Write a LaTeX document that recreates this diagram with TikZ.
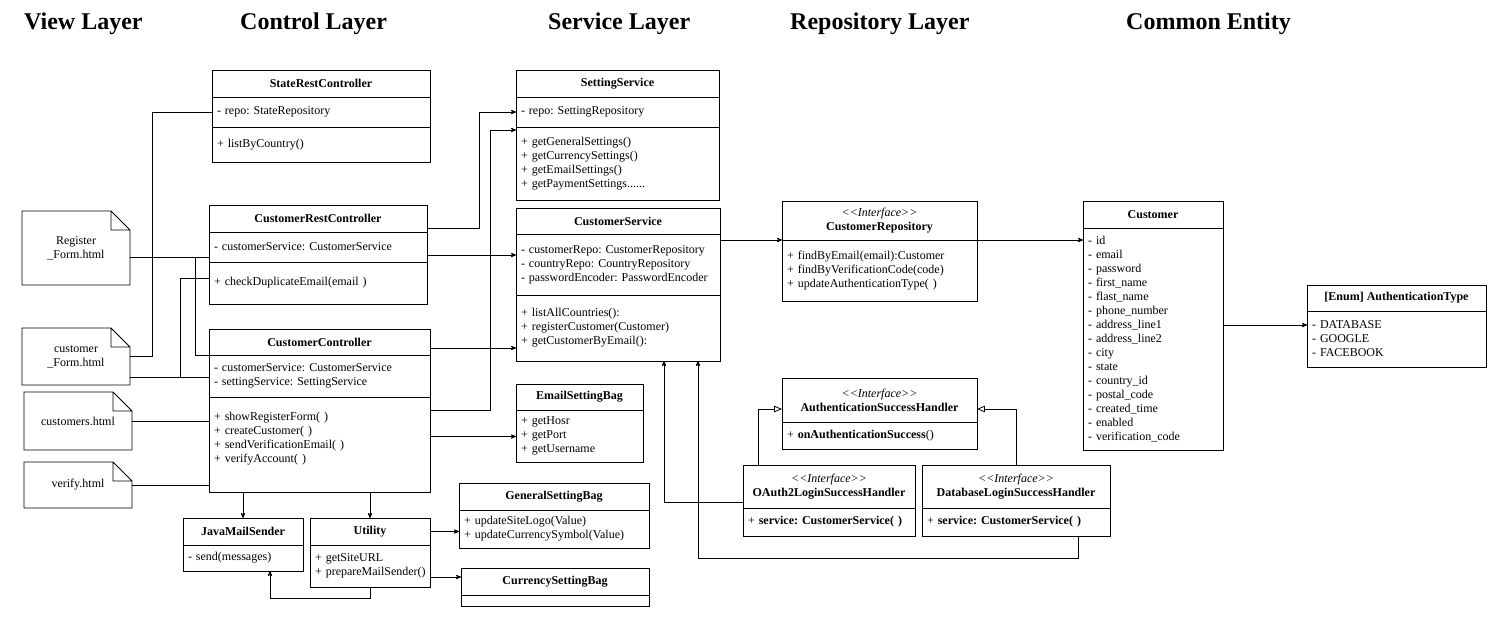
\documentclass[tikz,border=0pt]{standalone}
\usepackage{fontspec}
\setmainfont{Liberation Serif}
\usetikzlibrary{arrows,shapes,positioning,calc}
\newcommand{\umlfont}{\fontsize{12}{14}\selectfont\frenchspacing}
\newcommand{\iface}{{\normalfont\itshape <\kern0pt<Interface>\kern0pt>}}
\tikzset{
	classname/.style 2 args={
		rectangle,
		draw,
		line width=0.8pt,
		minimum width=#1,
		minimum height=#2,
		inner sep=2pt,
		outer sep=0pt,
		align=center,
		font=\umlfont\bfseries
	},
	members/.style 2 args={
		rectangle,
		draw,
		line width=0.8pt,
		text width=#1-10pt,
		minimum height=#2,
		inner xsep=5pt,
		inner ysep=2pt,
		outer sep=0pt,
		align=left,
		font=\umlfont
	},
	viewfile/.style={
		rectangle,
		minimum width=108,
		outer sep=0pt,
		align=center,
		font=\umlfont
	},
	layer/.style={
		anchor=base west,
		inner sep=0pt,
		font=\fontsize{24}{28}\selectfont\bfseries
	},
	arrow/.style={
		draw,
		line width=0.8pt,
		->,
		>=stealth'
	},
	inherit/.style={
		draw,
		line width=0.8pt,
		-open triangle 45
	},
	line/.style={
		draw,
		line width=0.8pt
	},
}

\begin{document}
\begin{tikzpicture}[x=1pt,y=-1pt]
\useasboundingbox (0,0) rectangle (1508,630);

% layers
\node [layer] (viewlayer) at (24,29) {View Layer};
\node [layer] (controllayer) at (240,29) {Control Layer};
\node [layer] (servicelayer) at (548,29) {Service Layer};
\node [layer] (repolayer) at (790,29) {Repository Layer};
\node [layer] (entitylayer) at (1126,29) {Common Entity};

% view layer
\node [viewfile,minimum height=74,anchor=north west] (reg) at (22,211) {Register\\\_Form.html};
\node [viewfile,minimum height=57,anchor=north west] (cfm) at (22,328) {customer\\\_Form.html};
\node [viewfile,minimum height=58,anchor=north west] (cus) at (24,392) {customers.html};
\node [viewfile,minimum height=46,anchor=north west] (ver) at (24,462) {verify.html};
\foreach \n in {reg,cfm,cus,ver}
	\draw [line] (\n.north west) -- ([xshift=-19pt]\n.north east) -- ([yshift=-19pt]\n.north east)
		-- (\n.south east) -- (\n.south west) -- cycle
		([xshift=-19pt]\n.north east) |- ([yshift=-19pt]\n.north east);

% control layer
\node [classname={218}{27},anchor=north west] (srct) at (212,70) {StateRestController};
\node [members={218}{30},below=0pt of srct] (srca) {- repo: StateRepository};
\node [members={218}{35},below=0pt of srca] (srcm) {+ listByCountry()};

\node [classname={218}{27},anchor=north west] (crct) at (209,205) {CustomerRestController};
\node [members={218}{30},below=0pt of crct] (crca) {- customerService: CustomerService};
\node [members={218}{42},below=0pt of crca] (crcm) {+ checkDuplicateEmail(email )};

\node [classname={221}{26},anchor=north west] (cct) at (209,329) {CustomerController};
\node [members={221}{42},below=0pt of cct] (cca) {- customerService: CustomerService\\- settingService: SettingService};
\node [members={221}{95},below=0pt of cca] (ccm) {+ showRegisterForm( )\\+ createCustomer( )\\+ sendVerificationEmail( )\\+ verifyAccount( )\\\mbox{}};

\node [classname={120}{27},anchor=north west] (jmst) at (183,518) {JavaMailSender};
\node [members={120}{26},below=0pt of jmst] (jmsa) {- send(messages)};

\node [classname={120}{27},anchor=north west] (utilt) at (310,518) {Utility};
\node [members={120}{42},below=0pt of utilt] (utila) {+ getSiteURL\\\mbox{+ prepareMailSender()}};

% service layer
\node [classname={203}{27},anchor=north west] (sst) at (516,70) {SettingService};
\node [members={203}{30},below=0pt of sst] (ssa) {- repo: SettingRepository};
\node [members={203}{73},below=0pt of ssa] (ssm) {+ getGeneralSettings()\\+ getCurrencySettings()\\+ getEmailSettings()\\+ getPaymentSettings......};

\node [classname={204}{26},anchor=north west] (cst) at (516,208) {CustomerService};
\node [members={204}{61},below=0pt of cst] (csa) {- customerRepo: CustomerRepository\\- countryRepo: CountryRepository\\- passwordEncoder: PasswordEncoder};
\node [members={204}{66},below=0pt of csa] (csm) {+ listAllCountries():\\+ registerCustomer(Customer)\\+ getCustomerByEmail():};

\node [classname={127}{26},anchor=north west] (esbt) at (516,384) {EmailSettingBag};
\node [members={127}{52},below=0pt of esbt] (esba) {+ getHosr\\+ getPort\\+ getUsername};

\node [classname={190}{27},anchor=north west] (gsbt) at (459,483) {GeneralSettingBag};
\node [members={190}{38},below=0pt of gsbt] (gsba) {+ updateSiteLogo(Value)\\+ updateCurrencySymbol(Value)};

\node [classname={188}{27},anchor=north west] (csbt) at (461,568) {CurrencySettingBag};
\node [members={188}{11},below=0pt of csbt] (csba) {};

% repository layer
\node [classname={195}{39},anchor=north west] (crrt) at (782,201) {\iface\\CustomerRepository};
\node [members={195}{61},below=0pt of crrt] (crrm) {+ findByEmail(email):Customer\\+ findByVerificationCode(code)\\+ updateAuthenticationType( )};

\node [classname={195}{44},anchor=north west] (asht) at (782,378) {\iface\\AuthenticationSuccessHandler};
\node [members={195}{27},below=0pt of asht] (ashm) {+ \textbf{onAuthenticationSuccess}()};

\node [classname={172}{43},anchor=north west] (oat) at (743,465) {\iface\\OAuth2LoginSuccessHandler};
\node [members={172}{28},below=0pt of oat] (oam) {+ \textbf{service: CustomerService( )}};

\node [classname={188}{43},anchor=north west] (dbt) at (922,465) {\iface\\DatabaseLoginSuccessHandler};
\node [members={188}{28},below=0pt of dbt] (dbm) {+ \textbf{service: CustomerService( )}};

% common entity
\node [classname={140}{27},anchor=north west] (custt) at (1083,201) {Customer};
\node [members={140}{222},below=0pt of custt] (custa) {- id\\- email\\- password\\- first\_name\\- flast\_name\\- phone\_number\\- address\_line1\\- address\_line2\\- city\\- state\\- country\_id\\- postal\_code\\- created\_time\\- enabled\\- verification\_code};

\node [classname={179}{26},anchor=north west] (att) at (1307,285) {[Enum] AuthenticationType};
\node [members={179}{56},below=0pt of att] (ata) {- DATABASE\\- GOOGLE\\- FACEBOOK};

% views to controllers
\coordinate (regout) at ([yshift=-9pt]reg.east);
\coordinate (cfmout) at ([yshift=-21pt]cfm.east);
\path [line] (cfm.east) -- ++(22,0) |- (srca.west);
\path [line] (regout) -- (regout -| crca.west);
\path [line] ([xshift=65pt]regout) |- (cct.south west);
\path [line] (cfmout) -- (cfmout -| cca.west);
\path [line] ([xshift=50pt]cfmout) |- ([yshift=5pt]crcm.west);
\path [line] (cus.east) -- (cus.east -| ccm.west);
\path [line] (ver.east) -- (ver.east -| ccm.west);

% controllers to services
\coordinate (crcout1) at ([yshift=-10pt]crct.east);
\coordinate (crcout2) at ([yshift=-8pt]crca.east);
\coordinate (ccout1) at ([yshift=-6pt]cct.east);
\coordinate (ccout2) at ([yshift=34pt]ccm.east);
\coordinate (ccout3) at ([yshift=8pt]ccm.east);
\path [arrow] (crcout1) -- ++(52,0) |- (ssa.west);
\path [arrow] (crcout2) -- (crcout2 -| cst.west);
\path [arrow] (ccout1) -- (ccout1 -| cst.west);
\path [arrow] (ccout2) -- ++(60,0) |- ([yshift=-3pt]ssm.north west);
\path [arrow] (ccout3) -- (ccout3 -| esba.west);
\path [arrow] (ccm.south -| jmst.north) -- (jmst.north);
\path [arrow] (ccm.south -| utilt.north) -- (utilt.north);

% utility
\coordinate (utilout) at ([yshift=-11pt]utila.east);
\path [arrow] (utilt.east) -- (utilt.east -| gsba.west);
\path [arrow] (utilout) -- (utilout -| csbt.west);
\path [arrow] (utila.south) -- ++(0,11) -| ([xshift=27pt]jmsa.south);

% service, repository and entity
\coordinate (custout) at ([yshift=-14pt]ata.north west);
\path [arrow] (crrt.south west -| cst.east) -- (crrt.south west);
\path [arrow] (crrt.south east) -- (crrt.south east -| custa.west);
\path [arrow] (custout -| custa.east) -- (custout);

% handlers
\coordinate (oaout) at ([yshift=6pt]oat.south west);
\path [arrow] (oaout) -| ([xshift=46pt]csm.south);
\path [arrow] ([xshift=-32pt]dbm.south east) -- ++(0,22) -| ([xshift=80pt]csm.south);
\path [inherit] ([xshift=15pt]oat.north west) |- ([yshift=-9pt]asht.west);
\path [inherit] (dbt.north) |- ([yshift=-9pt]asht.east);
\end{tikzpicture}
\end{document}
